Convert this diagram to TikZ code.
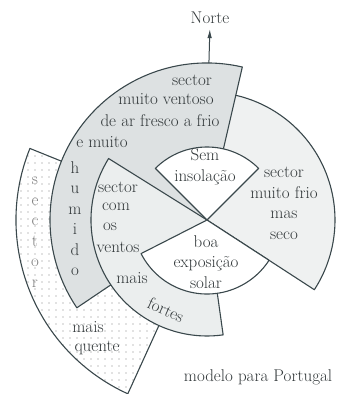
\documentclass[tikz,border=0pt]{standalone}
\usepackage{fontspec}
\usetikzlibrary{arrows.meta,patterns.meta}
\definecolor{edgegray}{RGB}{58,72,76}
\definecolor{inkgray}{RGB}{50,56,58}
\definecolor{humidfill}{RGB}{221,225,226}
\definecolor{coldfill}{RGB}{239,241,241}
\definecolor{windfill}{RGB}{235,238,238}

\begin{document}
\begin{tikzpicture}[x=1pt, y=1pt,
    font=\fontsize{17}{20.5}\selectfont,
    wedge/.style={draw=edgegray, line width=1.1pt, line join=round},
    lbl/.style={inkgray, inner sep=0pt, align=center},
  ]
  \useasboundingbox (0,0) rectangle (341,394);
  \coordinate (c) at (207,174);
  % sectors, back to front
  \draw[wedge, pattern={Dots[distance=7pt, radius=0.6pt]}, pattern color=gray]
    (c) -- ++(158:191) arc[start angle=158, end angle=245.5, radius=191] -- cycle;
  \draw[wedge, fill=coldfill]
    (c) -- ++(-33:128) arc[start angle=-33, end angle=80, radius=128] -- cycle;
  \draw[wedge, fill=humidfill]
    (c) -- ++(77:157) arc[start angle=77, end angle=214, radius=157] -- cycle;
  \draw[wedge, fill=windfill]
    (c) -- ++(148:116) arc[start angle=148, end angle=278, radius=116] -- cycle;
  \draw[wedge, fill=white]
    (c) -- ++(45:73) arc[start angle=45, end angle=135, radius=73] -- cycle;
  \draw[wedge, fill=white]
    (c) -- ++(207:74) arc[start angle=207, end angle=327, radius=74] -- cycle;

  \node[lbl] (norte) at (210,376) {Norte};
  \coordinate (north) at ([shift={(89.3:157)}]c);
  \draw[-{Latex[length=9pt,width=4.5pt]}, edgegray, line width=1pt, shorten >=5pt] (north) -- (norte.south);

  \node[lbl] (ventoso1) at (192,314) {sector};
  \node[lbl] (ventoso2) at (166,295) {muito ventoso};
  \node[lbl] (ventoso3) at (160,273) {de ar fresco a frio};
  \node[lbl] (ventoso4) at (102,252) {e muito};
  \node[lbl] (humido) at (75,175.5) {h\\u\\m\\i\\d\\o};

  \node[lbl, gray] (quente1) at (35,162) {s\\e\\c\\t\\o\\r};
  \node[lbl] (quente2) at (88,67) {mais};
  \node[lbl] (quente3) at (97,46) {quente};

  \node[lbl] (fortes1) at (118,207) {sector};
  \node[lbl] (fortes2) at (116,187) {com};
  \node[lbl] (fortes3) at (110,167) {os};
  \node[lbl] (fortes4) at (118,147) {ventos};
  \node[lbl] (fortes5) at (132,116) {mais};
  \node[lbl, rotate=-24] (fortes6) at (166,84) {fortes};

  \node[lbl] (sem) at (205,227) {Sem\\insolação};
  \node[lbl] (frio) at (284,190.5) {sector\\muito frio\\mas\\seco};
  \node[lbl] (boa) at (206,132) {boa\\exposição\\solar};

  \node[lbl] (modelo) at (258,17) {modelo para Portugal};
\end{tikzpicture}
\end{document}
